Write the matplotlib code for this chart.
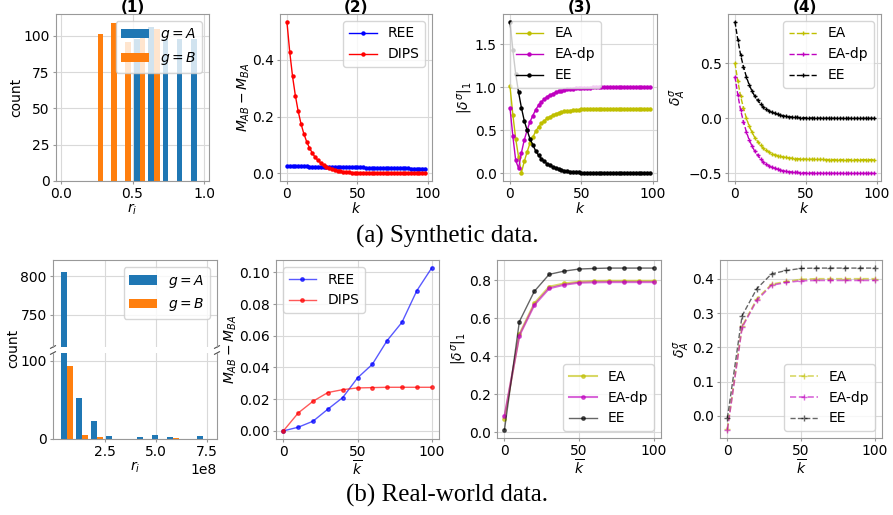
import numpy as np
import matplotlib
matplotlib.use('Agg')
import matplotlib.pyplot as plt

# ---- synthetic data (top row) ----
# panel (1): histogram bars of r_i per group
r_A = [0.53, 0.63, 0.73, 0.83, 0.93]
count_A = [98, 106, 98, 98, 98]
r_B = [0.275, 0.37, 0.47, 0.57, 0.67]
count_B = [101, 109, 96, 100, 105]

k_syn = np.arange(0, 100, 2)

# panel (2)
ree_syn = [0.026, 0.026, 0.026, 0.025, 0.025, 0.025, 0.025, 0.025, 0.024, 0.024,
           0.024, 0.024, 0.024, 0.023, 0.023, 0.023, 0.023, 0.023, 0.022, 0.022,
           0.022, 0.022, 0.022, 0.021, 0.021, 0.021, 0.021, 0.021, 0.020, 0.020,
           0.020, 0.020, 0.020, 0.019, 0.019, 0.019, 0.019, 0.019, 0.018, 0.018,
           0.018, 0.018, 0.018, 0.018, 0.017, 0.017, 0.017, 0.017, 0.017, 0.017]
dips_syn = [0.535, 0.428, 0.342, 0.274, 0.219, 0.175, 0.140, 0.112, 0.090, 0.072,
            0.057, 0.046, 0.037, 0.029, 0.024, 0.019, 0.015, 0.012, 0.010, 0.008,
            0.006, 0.005, 0.004, 0.003, 0.002, 0.002, 0.001, 0.001, 0.001, 0.0,
            0.0, 0.0, 0.0, 0.0, 0.0, 0.0, 0.0, 0.0, 0.0, 0.0,
            0.0, 0.0, 0.0, 0.0, 0.0, 0.0, 0.0, 0.0, 0.0, 0.0]

# panel (3)
ee_l1 = [1.76, 1.43, 1.15, 0.94, 0.76, 0.61, 0.50, 0.40, 0.33, 0.26,
         0.21, 0.17, 0.14, 0.11, 0.092, 0.075, 0.060, 0.049, 0.040, 0.032,
         0.026, 0.021, 0.017, 0.014, 0.011, 0.009, 0.007, 0.006, 0.005, 0.004,
         0.003, 0.003, 0.002, 0.002, 0.001, 0.001, 0.001, 0.001, 0.0, 0.0,
         0.0, 0.0, 0.0, 0.0, 0.0, 0.0, 0.0, 0.0, 0.0, 0.0]
ea_l1 = [1.01, 0.68, 0.40, 0.19, 0.01, 0.14, 0.25, 0.35, 0.42, 0.49,
         0.54, 0.58, 0.61, 0.64, 0.658, 0.675, 0.690, 0.701, 0.710, 0.718,
         0.724, 0.729, 0.733, 0.736, 0.739, 0.741, 0.743, 0.744, 0.745, 0.746,
         0.747, 0.747, 0.748, 0.748, 0.749, 0.749, 0.749, 0.749, 0.75, 0.75,
         0.75, 0.75, 0.75, 0.75, 0.75, 0.75, 0.75, 0.75, 0.75, 0.75]
eadp_l1 = [0.76, 0.43, 0.15, 0.06, 0.24, 0.39, 0.50, 0.60, 0.67, 0.74,
           0.79, 0.83, 0.86, 0.89, 0.908, 0.925, 0.940, 0.951, 0.960, 0.968,
           0.974, 0.979, 0.983, 0.986, 0.989, 0.991, 0.993, 0.994, 0.995, 0.996,
           0.997, 0.997, 0.998, 0.998, 0.999, 0.999, 0.999, 0.999, 1.0, 1.0,
           1.0, 1.0, 1.0, 1.0, 1.0, 1.0, 1.0, 1.0, 1.0, 1.0]

# panel (4)
ee_dA = [0.88, 0.715, 0.575, 0.47, 0.38, 0.305, 0.25, 0.20, 0.165, 0.13,
         0.105, 0.085, 0.07, 0.055, 0.046, 0.0375, 0.030, 0.0245, 0.020, 0.016,
         0.013, 0.0105, 0.0085, 0.007, 0.0055, 0.0045, 0.0035, 0.003, 0.0025, 0.002,
         0.0015, 0.0015, 0.001, 0.001, 0.0005, 0.0005, 0.0005, 0.0005, 0.0, 0.0,
         0.0, 0.0, 0.0, 0.0, 0.0, 0.0, 0.0, 0.0, 0.0, 0.0]
ea_dA = [0.505, 0.34, 0.20, 0.095, 0.005, -0.07, -0.125, -0.175, -0.21, -0.245,
         -0.27, -0.29, -0.305, -0.32, -0.329, -0.3375, -0.345, -0.3505, -0.355, -0.359,
         -0.362, -0.3645, -0.3665, -0.368, -0.3695, -0.3705, -0.3715, -0.372, -0.3725, -0.373,
         -0.3735, -0.3735, -0.374, -0.374, -0.3745, -0.3745, -0.3745, -0.3745, -0.375, -0.375,
         -0.375, -0.375, -0.375, -0.375, -0.375, -0.375, -0.375, -0.375, -0.375, -0.375]
eadp_dA = [0.38, 0.215, 0.075, -0.03, -0.12, -0.195, -0.25, -0.30, -0.335, -0.37,
           -0.395, -0.415, -0.43, -0.445, -0.454, -0.4625, -0.47, -0.4755, -0.48, -0.484,
           -0.487, -0.4895, -0.4915, -0.493, -0.4945, -0.4955, -0.4965, -0.497, -0.4975, -0.498,
           -0.4985, -0.4985, -0.499, -0.499, -0.4995, -0.4995, -0.4995, -0.4995, -0.5, -0.5,
           -0.5, -0.5, -0.5, -0.5, -0.5, -0.5, -0.5, -0.5, -0.5, -0.5]

# ---- real-world data (bottom row) ----
bin_centers = np.array([0.65, 1.39, 2.13, 2.87, 3.61, 4.36, 5.10, 5.84, 6.58, 7.32]) * 1e8
bin_width = 0.741e8
hist_A = [806, 52, 23, 4, 0, 3, 5, 2, 0, 4]
hist_B = [94, 5, 2, 0, 0, 0, 0, 1, 0, 0]

k_real = [0, 10, 20, 30, 40, 50, 60, 70, 80, 90, 100]
ree_real = [0.0, 0.0023, 0.0061, 0.0137, 0.021, 0.0334, 0.042, 0.057, 0.0685, 0.0884, 0.1027]
dips_real = [0.0, 0.0113, 0.0187, 0.0242, 0.026, 0.0271, 0.0273, 0.0275, 0.0275, 0.0275, 0.0275]

ee_l1_real = [0.012, 0.583, 0.742, 0.832, 0.849, 0.860, 0.863, 0.865, 0.865, 0.865, 0.865]
ea_l1_real = [0.072, 0.516, 0.679, 0.767, 0.784, 0.793, 0.797, 0.798, 0.798, 0.798, 0.798]
eadp_l1_real = [0.084, 0.509, 0.670, 0.758, 0.777, 0.788, 0.790, 0.791, 0.791, 0.791, 0.791]

ee_dA_real = [-0.007, 0.292, 0.371, 0.414, 0.424, 0.430, 0.431, 0.431, 0.431, 0.431, 0.431]
ea_dA_real = [-0.039, 0.261, 0.341, 0.384, 0.392, 0.398, 0.400, 0.400, 0.400, 0.400, 0.400]
eadp_dA_real = [-0.041, 0.258, 0.337, 0.381, 0.389, 0.394, 0.395, 0.395, 0.395, 0.395, 0.395]

plt.rcParams['font.size'] = 10
plt.rcParams['axes.edgecolor'] = '0.6'
plt.rcParams['xtick.color'] = '0.6'
plt.rcParams['ytick.color'] = '0.6'
plt.rcParams['xtick.labelcolor'] = 'black'
plt.rcParams['ytick.labelcolor'] = 'black'
plt.rcParams['xtick.major.size'] = 2.5
plt.rcParams['ytick.major.size'] = 2.5
plt.rcParams['xtick.major.pad'] = 2
plt.rcParams['ytick.major.pad'] = 2
plt.rcParams['axes.labelpad'] = 0
plt.rcParams['grid.color'] = '0.85'
plt.rcParams['grid.linewidth'] = 0.8

W, H = 893, 515
fig = plt.figure(figsize=(W / 100, H / 100), dpi=100)


def add_ax(l, t, r, b):
    return fig.add_axes([l / W, 1 - b / H, (r - l) / W, (b - t) / H])


def panel_title(ax, s):
    # title centred over the axes, close to the top edge of the figure
    x0, y0, w, h = ax.get_position().bounds
    fig.text(x0 + w / 2, 1 - 7 / H, s, ha='center', va='center',
             fontweight='bold', fontsize=11)


# (1)
ax = add_ax(56, 14, 209, 181)
ax.grid(zorder=0)
ax.bar(r_A, count_A, width=0.038, color='tab:blue', label='$g = A$', zorder=2)
ax.bar(r_B, count_B, width=0.038, color='tab:orange', label='$g = B$', zorder=2)
ax.set_xlim(-0.035, 1.035)
ax.set_ylim(0, 115)
ax.set_xticks([0.0, 0.5, 1.0])
ax.set_yticks([0, 25, 50, 75, 100])
ax.set_xlabel('$r_i$')
ax.set_ylabel('count')
panel_title(ax, '(1)')
ax.legend(loc='upper right')

# (2)
ax = add_ax(280, 14, 432, 181)
ax.grid(zorder=0)
ax.plot(k_syn, ree_syn, 'b-o', ms=2.2, lw=1, label='REE')
ax.plot(k_syn, dips_syn, 'r-o', ms=2.2, lw=1, label='DIPS')
ax.set_xticks([0, 50, 100])
ax.set_yticks([0.0, 0.2, 0.4])
ax.set_xlabel('$k$')
ax.set_ylabel('$M_{AB} - M_{BA}$')
panel_title(ax, '(2)')
ax.legend(loc='upper right')

# (3)
ax = add_ax(503, 14, 657, 181)
ax.grid(zorder=0)
ax.plot(k_syn, ea_l1, 'y-o', ms=2.2, lw=1, label='EA')
ax.plot(k_syn, eadp_l1, 'm-o', ms=2.2, lw=1, label='EA-dp')
ax.plot(k_syn, ee_l1, 'k-o', ms=2.2, lw=1, label='EE')
ax.set_xticks([0, 50, 100])
ax.set_yticks([0.0, 0.5, 1.0, 1.5])
ax.set_xlabel('$k$')
ax.set_ylabel(r'$|\delta^{\sigma}|_1$')
panel_title(ax, '(3)')
ax.legend(loc='upper left')

# (4)
ax = add_ax(728, 14, 881, 181)
ax.grid(zorder=0)
ax.plot(k_syn, ea_dA, 'y--+', ms=3.5, lw=1, label='EA')
ax.plot(k_syn, eadp_dA, 'm--+', ms=3.5, lw=1, label='EA-dp')
ax.plot(k_syn, ee_dA, 'k--+', ms=3.5, lw=1, label='EE')
ax.set_xticks([0, 50, 100])
ax.set_yticks([-0.5, 0.0, 0.5])
ax.set_xlabel('$k$')
ax.set_ylabel(r'$\delta^{\sigma}_A$')
panel_title(ax, '(4)')
ax.legend(loc='upper right')

fig.text(447 / W, 1 - 236 / H, '(a) Synthetic data.', ha='center', va='center',
         family='Liberation Serif', fontsize=18)

# (b1) broken-axis histogram
ax_up = add_ax(53, 260, 217, 347)
ax_lo = add_ax(53, 353, 217, 439)
for a in (ax_up, ax_lo):
    a.grid(zorder=0)
    a.bar(bin_centers - 0.2 * bin_width, hist_A, width=0.4 * bin_width,
          color='tab:blue', label='$g = A$', zorder=2)
    a.bar(bin_centers + 0.2 * bin_width, hist_B, width=0.4 * bin_width,
          color='tab:orange', label='$g = B$', zorder=2)
    a.set_xlim(-0.03e8, 7.98e8)
    a.set_xticks([2.5e8, 5.0e8, 7.5e8])
ax_up.set_ylim(708, 821)
ax_up.set_yticks([750, 800])
ax_lo.set_ylim(0, 110)
ax_lo.set_yticks([0, 100])
ax_up.spines['bottom'].set_visible(False)
ax_lo.spines['top'].set_visible(False)
ax_up.tick_params(bottom=False, labelbottom=False)
ax_up.legend(loc='upper right')
ax_lo.set_xlabel('$r_i$')
d = .015
kw = dict(transform=ax_up.transAxes, color='0.3', clip_on=False, lw=0.8)
ax_up.plot((-d, +d), (-d, +d), **kw)
ax_up.plot((1 - d, 1 + d), (-d, +d), **kw)
kw.update(transform=ax_lo.transAxes)
ax_lo.plot((-d, +d), (1 - d, 1 + d), **kw)
ax_lo.plot((1 - d, 1 + d), (1 - d, 1 + d), **kw)
fig.text(13 / W, 1 - 348 / H, 'count', rotation=90, ha='center', va='center')

# (b2)
ax = add_ax(276, 260, 439, 439)
ax.grid(zorder=0)
ax.plot(k_real, ree_real, 'b-o', ms=2.5, lw=1, alpha=0.65, label='REE')
ax.plot(k_real, dips_real, 'r-o', ms=2.5, lw=1, alpha=0.65, label='DIPS')
ax.set_xticks([0, 50, 100])
ax.set_yticks([0.0, 0.02, 0.04, 0.06, 0.08, 0.10])
ax.set_xlabel(r'$\overline{k}$')
ax.set_ylabel('$M_{AB} - M_{BA}$')
ax.legend(loc='upper left')

# (b3)
ax = add_ax(497, 260, 661, 438)
ax.grid(zorder=0)
ax.plot(k_real, ea_l1_real, 'y-o', ms=2.5, lw=1.5, alpha=0.6, label='EA')
ax.plot(k_real, eadp_l1_real, 'm-o', ms=2.5, lw=1.5, alpha=0.6, label='EA-dp')
ax.plot(k_real, ee_l1_real, 'k-o', ms=2.5, lw=1, alpha=0.6, label='EE')
ax.set_xticks([0, 50, 100])
ax.set_yticks([0.0, 0.2, 0.4, 0.6, 0.8])
ax.set_xlabel(r'$\overline{k}$')
ax.set_ylabel(r'$|\delta^{\sigma}|_1$')
ax.legend(loc='lower right')

# (b4)
ax = add_ax(720, 260, 882, 438)
ax.grid(zorder=0)
ax.plot(k_real, ea_dA_real, 'y--+', ms=4, lw=1.2, alpha=0.6, label='EA')
ax.plot(k_real, eadp_dA_real, 'm--+', ms=4, lw=1.2, alpha=0.6, label='EA-dp')
ax.plot(k_real, ee_dA_real, 'k--+', ms=4, lw=1, alpha=0.6, label='EE')
ax.set_xticks([0, 50, 100])
ax.set_yticks([0.0, 0.1, 0.2, 0.3, 0.4])
ax.set_xlabel(r'$\overline{k}$')
ax.set_ylabel(r'$\delta^{\sigma}_A$')
ax.legend(loc='lower right')

fig.text(447 / W, 1 - 495 / H, '(b) Real-world data.', ha='center', va='center',
         family='Liberation Serif', fontsize=18)

fig.savefig('out.png', dpi=100)
